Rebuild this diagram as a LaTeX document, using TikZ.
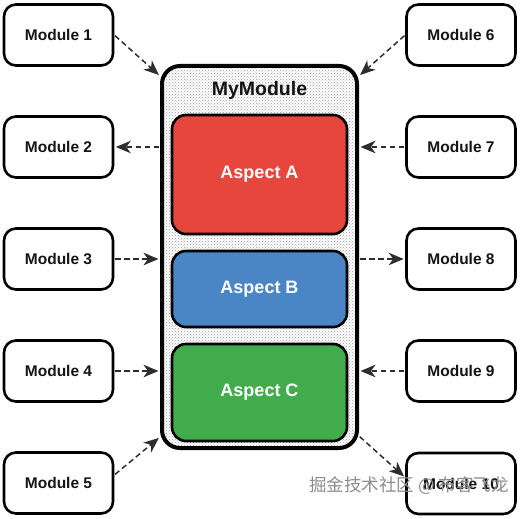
\documentclass[tikz,border=0pt]{standalone}
\usepackage{fontspec}
\setmainfont{Liberation Sans}
\newfontfamily\cjkfont{Noto Sans CJK SC}
\usetikzlibrary{arrows.meta,calc,patterns}
\definecolor{aspred}{RGB}{231,70,60}
\definecolor{aspblue}{RGB}{74,134,198}
\definecolor{aspgreen}{RGB}{66,172,76}
\definecolor{arrowgray}{RGB}{45,45,45}
\tikzset{
  modbox/.style={draw=black, line width=2.6pt, fill=white, rounded corners=12pt,
    minimum width=109pt, minimum height=61pt, inner sep=0pt,
    font=\fontsize{15.5}{18}\selectfont\bfseries, text=black!92},
  outerbox/.style={draw=black, line width=4pt, rounded corners=18pt,
    minimum width=195pt, minimum height=382pt, inner sep=0pt,
    pattern=crosshatch dots, pattern color=black!40},
  aspbox/.style={draw=black, line width=2.6pt, rounded corners=14pt,
    minimum width=175pt, inner sep=0pt,
    font=\fontsize{18}{21}\selectfont\bfseries, text=white},
  titletext/.style={font=\fontsize{19.5}{22}\selectfont\bfseries, text=black!92, inner sep=0pt},
  dep/.style={draw=arrowgray, line width=1.5pt, dash pattern=on 5.5pt off 3.5pt,
    -{Stealth[length=15pt,width=12.5pt,inset=4.5pt,fill=arrowgray]}, shorten >=1.5pt, shorten <=1pt},
  wmtext/.style={font=\cjkfont\fontsize{17.5}{20}\selectfont, text=black!45, inner sep=0pt}
}
\begin{document}
\begin{tikzpicture}[x=1pt,y=-1pt]
\useasboundingbox (0,0) rectangle (520,519);
% outer module
\fill[white] (162,66) rectangle (357,448);
\node[outerbox] (my) at (259.5,257) {};
\node[titletext] (title) at (259.5,90) {MyModule};
\node[aspbox, fill=aspred, minimum height=119pt] (a) at (259.5,174.5) {Aspect A};
\node[aspbox, fill=aspblue, minimum height=76pt] (b) at (259.5,289) {Aspect B};
\node[aspbox, fill=aspgreen, minimum height=97pt] (c) at (259.5,392.5) {Aspect C};
% left modules
\node[modbox] (m1) at (58.5,35) {Module 1};
\node[modbox] (m2) at (58.5,147) {Module 2};
\node[modbox] (m3) at (58.5,259) {Module 3};
\node[modbox] (m4) at (58.5,371) {Module 4};
\node[modbox] (m5) at (58.5,483) {Module 5};
% right modules
\node[modbox] (m6) at (461,35) {Module 6};
\node[modbox] (m7) at (461,147) {Module 7};
\node[modbox] (m8) at (461,259) {Module 8};
\node[modbox] (m9) at (461,371) {Module 9};
\node[modbox] (m10) at (461,483.5) {Module 10};
% connectors
\coordinate (inTL) at ($(my.north west)+(0,12)$);
\coordinate (inTR) at ($(my.north east)+(0,12)$);
\coordinate (inBL) at ($(my.south west)+(0,-13)$);
\coordinate (outBR) at ($(my.south east)+(0,-14)$);
\draw[dep] (m1.east) -- (inTL);
\draw[dep] (my.west |- m2.east) -- (m2.east);
\draw[dep] (m3.east) -- (my.west |- m3.east);
\draw[dep] (m4.east) -- (my.west |- m4.east);
\draw[dep] ($(m5.east)+(0,-8)$) -- (inBL);
\draw[dep] (m6.west) -- (inTR);
\draw[dep] (m7.west) -- (my.east |- m7.west);
\draw[dep] (my.east |- m8.west) -- (m8.west);
\draw[dep] (m9.west) -- (my.east |- m9.west);
\draw[dep] (outBR) -- ($(m10.west)+(0,-6)$);
% watermark
\node[wmtext] (wm) at (409,486) {掘金技术社区 @ 布客飞龙};
\end{tikzpicture}
\end{document}
